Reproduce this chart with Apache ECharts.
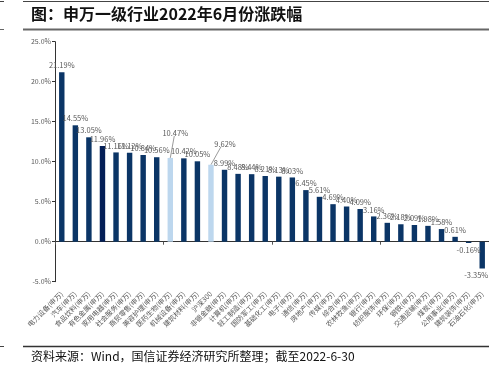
<!DOCTYPE html>
<html>
<head>
<meta charset="utf-8">
<script src="https://cdn.jsdelivr.net/npm/echarts@6/dist/echarts.min.js"></script>
<style>
html,body{margin:0;padding:0;background:#fff;}
#c{width:489px;height:366px;}
</style>
</head>
<body>
<div id="c"></div>
<script>
var categories = ["电力设备(申万)","汽车(申万)","食品饮料(申万)","有色金属(申万)","家用电器(申万)","社会服务(申万)","商贸零售(申万)","美容护理(申万)","医药生物(申万)","机械设备(申万)","建筑材料(申万)","沪深300","非银金融(申万)","计算机(申万)","轻工制造(申万)","国防军工(申万)","基础化工(申万)","电子(申万)","通信(申万)","房地产(申万)","传媒(申万)","综合(申万)","农林牧渔(申万)","银行(申万)","纺织服饰(申万)","环保(申万)","钢铁(申万)","交通运输(申万)","煤炭(申万)","公用事业(申万)","建筑装饰(申万)","石油石化(申万)"];
var values = [21.19,14.55,13.05,11.96,11.16,11.12,10.84,10.56,10.47,10.42,10.05,9.62,8.99,8.48,8.44,8.21,8.13,8.03,6.45,5.61,4.69,4.40,4.09,3.16,2.36,2.18,2.09,1.98,1.58,0.61,-0.16,-3.35];
var highlightIdx = [8, 11];
var yTicks = [-5, 0, 5, 10, 15, 20, 25];

var NAVY = '#0b3566', DARK = '#041f57', LIGHT = '#bdd7ee';
var mainData = values.map(function(v, i){
  if (highlightIdx.indexOf(i) >= 0) return null;
  var item = {value: v, itemStyle: {color: i === 3 ? DARK : NAVY}};
  if (v < 0) item.label = {position: 'bottom'};
  return item;
});
var hiData = values.map(function(v, i){
  return highlightIdx.indexOf(i) >= 0 ? v : null;
});
// label shifts for the highlighted bars (label offset, leader end offset)
var shifts = {8: {dx: 5, dy: -18, lx: 4, ly: -22}, 11: {dx: 14, dy: -14, lx: 10, ly: -18}};

var chart = echarts.init(document.getElementById('c'), null, {renderer: 'canvas'});
var FONT = '"Noto Sans CJK SC", "Noto Sans", sans-serif';
var labelFmt = function(p){return p.value.toFixed(2) + '%';};
var baseGraphic = [
  {type: 'line', shape: {x1: 23, y1: 1.5, x2: 489, y2: 1.5}, style: {stroke: '#444', lineWidth: 1}},
  {type: 'line', shape: {x1: 0, y1: 1.5, x2: 4, y2: 1.5}, style: {stroke: '#444', lineWidth: 1}},
  {type: 'text', left: 31, top: 6, style: {text: '图：申万一级行业2022年6月份涨跌幅', font: 'bold 16px "Noto Sans CJK SC", sans-serif', fill: '#111'}},
  {type: 'line', shape: {x1: 23, y1: 29.5, x2: 489, y2: 29.5}, style: {stroke: '#666', lineWidth: 2}},
  {type: 'line', shape: {x1: 0, y1: 29.5, x2: 4, y2: 29.5}, style: {stroke: '#666', lineWidth: 1}},
  {type: 'line', shape: {x1: 23, y1: 346.5, x2: 489, y2: 346.5}, style: {stroke: '#333', lineWidth: 1.5}},
  {type: 'line', shape: {x1: 0, y1: 346.5, x2: 4, y2: 346.5}, style: {stroke: '#444', lineWidth: 1}},
  {type: 'text', left: 31, top: 350, style: {text: '资料来源：Wind，国信证券经济研究所整理；截至2022-6-30', font: '12px "Noto Sans CJK SC", sans-serif', fill: '#111'}}
];
chart.setOption({
  animation: false,
  backgroundColor: '#fff',
  textStyle: {fontFamily: FONT},
  grid: {left: 55, right: 0, top: 41.7, bottom: 84.3, containLabel: false},
  xAxis: [{
    type: 'category', data: categories,
    axisLine: {show: true, onZero: true, lineStyle: {color: '#333', width: 1}},
    axisTick: {show: true, length: 3, lineStyle: {color: '#555'}},
    axisLabel: {show: false}
  }, {
    type: 'category', data: categories, position: 'bottom',
    axisLine: {show: false, onZero: false},
    axisTick: {show: false},
    axisLabel: {show: true, interval: 0, rotate: 45, fontSize: 7, color: '#595959', margin: 11, fontFamily: FONT}
  }],
  yAxis: {
    type: 'value', min: yTicks[0], max: yTicks[yTicks.length-1], interval: 5,
    axisLine: {show: true, lineStyle: {color: '#333', width: 1}},
    axisTick: {show: true, length: 3, lineStyle: {color: '#333'}},
    splitLine: {show: false},
    axisLabel: {fontSize: 7, color: '#595959', margin: 4, formatter: function(v){return v.toFixed(1) + '%';}}
  },
  series: [{
    type: 'bar', data: mainData, barWidth: '40%', barGap: '-100%', xAxisIndex: 0,
    label: {show: true, position: 'top', distance: 3, fontSize: 7.5, color: '#595959', formatter: labelFmt},
    labelLayout: function(p){
      if (p.dataIndex === 31) return {dx: -6};
      return {};
    }
  }, {
    type: 'bar', data: hiData, barWidth: '40%', barGap: '-100%', xAxisIndex: 0,
    itemStyle: {color: LIGHT},
    label: {show: true, position: 'top', distance: 3, fontSize: 7.5, color: '#595959', formatter: labelFmt},
    labelLayout: function(p){
      var s = shifts[p.dataIndex];
      return s ? {dx: s.dx, dy: s.dy} : {};
    }
  }],
  graphic: baseGraphic
});
// leader lines from bar tops, positioned through the chart's own scales
var leaders = highlightIdx.map(function(i){
  var pt = chart.convertToPixel({xAxisIndex: 0, yAxisIndex: 0}, [i, values[i]]);
  var s = shifts[i];
  return {type: 'line', shape: {x1: pt[0], y1: pt[1], x2: pt[0] + s.lx, y2: pt[1] + s.ly},
    style: {stroke: '#808080', lineWidth: 0.8}};
});
chart.setOption({graphic: baseGraphic.concat(leaders)});
</script>
</body>
</html>
